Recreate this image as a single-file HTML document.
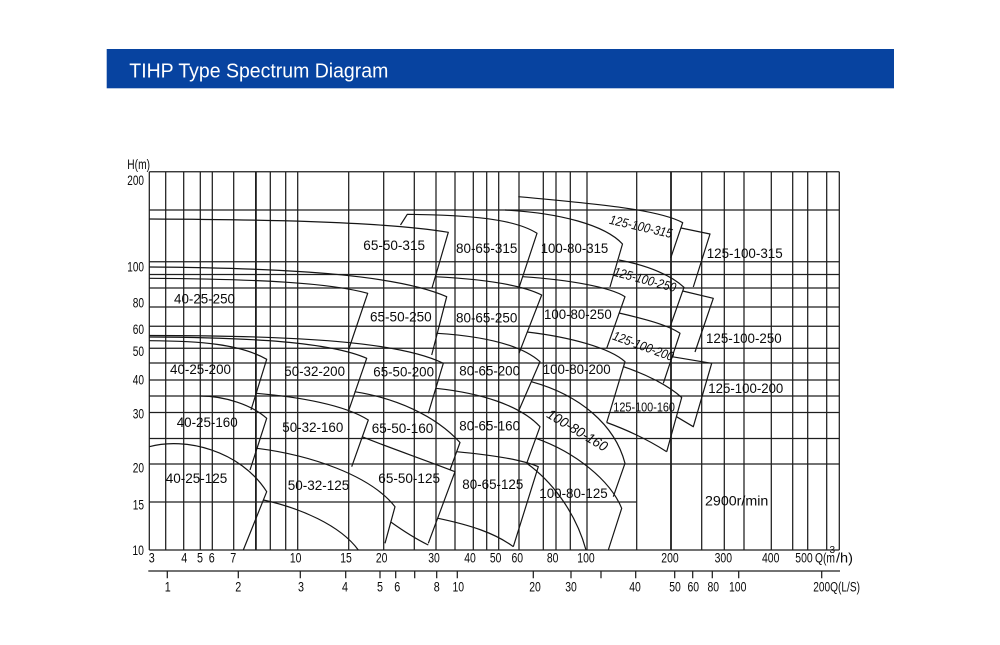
<!DOCTYPE html>
<html>
<head>
<meta charset="utf-8">
<style>
html,body{margin:0;padding:0;background:#fff;}
svg{display:block;}
text{font-family:"Liberation Sans",Arial,sans-serif;fill:#0a0a0a;}
</style>
</head>
<body>
<svg width="1000" height="645" viewBox="0 0 1000 645" xmlns="http://www.w3.org/2000/svg">
<rect width="1000" height="645" fill="#fff"/>
<!-- Header -->
<rect x="106.7" y="49" width="787.3" height="39.3" fill="#0743a0"/>
<text x="129.3" y="77.5" font-size="20" style="fill:#fff" textLength="259" lengthAdjust="spacingAndGlyphs">TIHP Type Spectrum Diagram</text>

<!-- Grid -->
<g stroke="#1e1e1e" stroke-width="1.25" fill="none">
<path d="M149.3,171.7V550 M165.7,171.7V550 M183.7,171.7V550 M200.3,171.7V550 M212.3,171.7V550 M233.7,171.7V550 M270.3,171.7V550 M285.7,171.7V550 M297.7,171.7V550 M348.7,171.7V550 M383.7,171.7V550 M414.3,171.7V550 M436,171.7V550 M455,171.7V550 M473.3,171.7V550 M486.7,171.7V550 M498.7,171.7V550 M519,171.7V550 M543.3,171.7V550 M556,171.7V550 M570.3,171.7V550 M587,171.7V550 M636.7,171.7V550 M701.7,171.7V550 M724.3,171.7V550 M744,171.7V550 M771.3,171.7V550 M792.7,171.7V550 M807.7,171.7V550 M826.7,171.7V550 M839.3,171.7V550"/>
<path d="M255.9,171.7V550 M671,171.7V550" stroke-width="1.8"/>
<path d="M149.3,171.7H839.3 M149.3,210H839.3 M149.3,261.7H839.3 M149.3,274.5H839.3 M149.3,288H839.3 M149.3,307H839.3 M149.3,326.2H839.3 M149.3,348.3H839.3 M149.3,363H839.3 M149.3,380H839.3 M149.3,396H839.3 M149.3,412.5H839.3 M149.3,438.5H839.3 M149.3,464H839.3 M149.3,502H636.7 M149.3,550H839.3"/>
<!-- L/S axis -->
<path d="M148.3,571H840 M167.3,571v7.3 M238.3,571v7.3 M300.3,571v7.3 M345.7,571v7.3 M380,571v7.3 M395.7,571v7.3 M414.7,571v7.3 M436.7,571v7.3 M457.3,571v7.3 M533.3,571v7.3 M571,571v7.3 M601,571v7.3 M635.7,571v7.3 M674.7,571v7.3 M692.7,571v7.3 M712.3,571v7.3 M738.7,571v7.3 M821.7,571v7.3"/>
</g>

<!-- Curves -->
<g stroke="#151515" stroke-width="1.2" fill="none" stroke-linejoin="round">
<path d="M149.3,219 C250,219.5 380,221 448.3,232.3 L432,288"/>
<path d="M400.5,225 L407.3,214.3 C470,215 515,219 537,233.3 L519,287.7"/>
<path d="M149.3,267 C300,268 400,276 446.7,296.7 L431.7,355"/>
<path d="M149.3,278.3 C260,279 330,283 367.7,293.3 L348.5,350"/>
<path d="M435,276.7 C480,279 520,284 541.7,295 L519,353.3"/>
<path d="M505,210 C560,213 605,225 622.5,244 L610,287"/>
<path d="M518.3,196.7 C600,204 660,210 682.7,222.7 L670.7,258"/>
<path d="M681,228 L710,234 L693.3,287"/>
<path d="M522.6,276.7 C570,280 610,287 625,296.7 L606.7,348.3"/>
<path d="M619,260 C650,266 672,276 684,287.3 L670,327"/>
<path d="M682.7,291 L713.3,298.3 L695,352"/>
<path d="M149.3,335.5 C300,335.5 400,342 443.3,363.3 L428.3,413.3"/>
<path d="M149.3,337 C250,337.5 330,342 366.7,358.3 L348.3,411.7"/>
<path d="M149.3,340.7 C200,341 240,344 266.7,359.3 L251,410"/>
<path d="M437,333.3 C480,336 520,344 540,361.7 L518.3,411.7"/>
<path d="M527,332 C570,337 610,348 625,361.7 L606.7,422.5"/>
<path d="M619,313 C645,319 668,325 680,333.3 L663.3,383.3"/>
<path d="M672,356.7 L711.7,363.3 L693.3,426.7 L676.5,416.7"/>
<path d="M200,396 C225,396 252,405 266.7,418.3 L250,470"/>
<path d="M256.5,393.3 C300,397 345,405 368.3,420 L351.7,466.7"/>
<path d="M354.5,391.7 C395,398 435,415 460,442.5 L450,470"/>
<path d="M435.8,388.3 C480,393 520,405 540,426.7 L526.7,463.3"/>
<path d="M531.3,381.7 C580,395 615,425 625,463.3 L613.3,496.7"/>
<path d="M623.5,366.7 C645,374 668,385 681.7,397.5 L666.7,451.7 M606.7,422.5 C630,431 650,441 666.7,451.7"/>
<path d="M149.3,446.7 C185,437 240,450 266.7,491.7 L243.3,550"/>
<path d="M257,448.3 C310,455 370,475 395,506.7 L385,543.3"/>
<path d="M263.4,500 C300,508 340,525 358.3,550"/>
<path d="M362,436.7 C390,448 425,460 455,471.7 L428.3,543.3"/>
<path d="M390.8,522 C402,530 416,539 428.3,545"/>
<path d="M456.5,451.7 C490,455 520,459 538.3,466.7 L513.3,546.7"/>
<path d="M438,518.3 C470,525 495,533 513.3,546.7"/>
<path d="M535.8,438.3 C575,452 610,480 621.7,508.3 L608.3,550"/>
<path d="M526.7,463.3 C550,480 575,510 586,550"/>
</g>

<!-- Y axis labels -->
<g font-size="13.5" text-anchor="end">
<text x="150" y="169" textLength="22.7" lengthAdjust="spacingAndGlyphs">H(m)</text>
<text x="144" y="185" textLength="16.7" lengthAdjust="spacingAndGlyphs">200</text>
<text x="144" y="271.7" textLength="16.7" lengthAdjust="spacingAndGlyphs">100</text>
<text x="144" y="307.7" textLength="11.3" lengthAdjust="spacingAndGlyphs">80</text>
<text x="144" y="334" textLength="11.3" lengthAdjust="spacingAndGlyphs">60</text>
<text x="144" y="356" textLength="11.3" lengthAdjust="spacingAndGlyphs">50</text>
<text x="144" y="384.3" textLength="11.3" lengthAdjust="spacingAndGlyphs">40</text>
<text x="144" y="418.3" textLength="11.3" lengthAdjust="spacingAndGlyphs">30</text>
<text x="144" y="472.7" textLength="11.3" lengthAdjust="spacingAndGlyphs">20</text>
<text x="144" y="509.3" textLength="11.3" lengthAdjust="spacingAndGlyphs">15</text>
<text x="144" y="555" textLength="11.6" lengthAdjust="spacingAndGlyphs">10</text>
</g>

<!-- Q m3/h labels -->
<g font-size="13.5" text-anchor="middle">
<text x="151.7" y="562.3" textLength="6" lengthAdjust="spacingAndGlyphs">3</text>
<text x="184.3" y="562.3" textLength="6" lengthAdjust="spacingAndGlyphs">4</text>
<text x="200" y="562.3" textLength="6" lengthAdjust="spacingAndGlyphs">5</text>
<text x="211.7" y="562.3" textLength="6" lengthAdjust="spacingAndGlyphs">6</text>
<text x="233.3" y="562.3" textLength="6" lengthAdjust="spacingAndGlyphs">7</text>
<text x="295.7" y="562.3" textLength="11.6" lengthAdjust="spacingAndGlyphs">10</text>
<text x="346" y="562.3" textLength="11.6" lengthAdjust="spacingAndGlyphs">15</text>
<text x="381.7" y="562.3" textLength="11.6" lengthAdjust="spacingAndGlyphs">20</text>
<text x="434" y="562.3" textLength="11.6" lengthAdjust="spacingAndGlyphs">30</text>
<text x="470" y="562.3" textLength="11.6" lengthAdjust="spacingAndGlyphs">40</text>
<text x="495.7" y="562.3" textLength="11.6" lengthAdjust="spacingAndGlyphs">50</text>
<text x="517.3" y="562.3" textLength="11.6" lengthAdjust="spacingAndGlyphs">60</text>
<text x="552.7" y="562.3" textLength="11.6" lengthAdjust="spacingAndGlyphs">80</text>
<text x="586" y="562.3" textLength="17.4" lengthAdjust="spacingAndGlyphs">100</text>
<text x="670" y="562.3" textLength="17.4" lengthAdjust="spacingAndGlyphs">200</text>
<text x="723.3" y="562.3" textLength="17.4" lengthAdjust="spacingAndGlyphs">300</text>
<text x="770.7" y="562.3" textLength="17.4" lengthAdjust="spacingAndGlyphs">400</text>
<text x="804" y="562.3" textLength="17.4" lengthAdjust="spacingAndGlyphs">500</text>
</g>
<g font-size="13.5">
<text x="815" y="562.3" textLength="20" lengthAdjust="spacingAndGlyphs">Q(m</text>
<text x="836" y="562.3" textLength="17" lengthAdjust="spacingAndGlyphs">/h)</text>
<text x="829.5" y="553" font-size="10">3</text>
</g>

<!-- Q L/S labels -->
<g font-size="13.5" text-anchor="middle">
<text x="167.7" y="591.5" textLength="6" lengthAdjust="spacingAndGlyphs">1</text>
<text x="238.3" y="591.5" textLength="6" lengthAdjust="spacingAndGlyphs">2</text>
<text x="301" y="591.5" textLength="6" lengthAdjust="spacingAndGlyphs">3</text>
<text x="345" y="591.5" textLength="6" lengthAdjust="spacingAndGlyphs">4</text>
<text x="380" y="591.5" textLength="6" lengthAdjust="spacingAndGlyphs">5</text>
<text x="397.3" y="591.5" textLength="6" lengthAdjust="spacingAndGlyphs">6</text>
<text x="436.7" y="591.5" textLength="6" lengthAdjust="spacingAndGlyphs">8</text>
<text x="458.3" y="591.5" textLength="11.6" lengthAdjust="spacingAndGlyphs">10</text>
<text x="535" y="591.5" textLength="11.6" lengthAdjust="spacingAndGlyphs">20</text>
<text x="571" y="591.5" textLength="11.6" lengthAdjust="spacingAndGlyphs">30</text>
<text x="635" y="591.5" textLength="11.6" lengthAdjust="spacingAndGlyphs">40</text>
<text x="675" y="591.5" textLength="11.6" lengthAdjust="spacingAndGlyphs">50</text>
<text x="693.3" y="591.5" textLength="11.6" lengthAdjust="spacingAndGlyphs">60</text>
<text x="713.3" y="591.5" textLength="11.6" lengthAdjust="spacingAndGlyphs">80</text>
<text x="737.7" y="591.5" textLength="17.4" lengthAdjust="spacingAndGlyphs">100</text>
</g>
<text x="813.3" y="591.5" font-size="13.5" textLength="46.7" lengthAdjust="spacingAndGlyphs">200Q(L/S)</text>

<!-- Pump labels -->
<g font-size="14">
<text x="174" y="303.3" textLength="61" lengthAdjust="spacingAndGlyphs">40-25-250</text>
<text x="170" y="374" textLength="61" lengthAdjust="spacingAndGlyphs">40-25-200</text>
<text x="176.7" y="427" textLength="61" lengthAdjust="spacingAndGlyphs">40-25-160</text>
<text x="165.7" y="483" textLength="61.6" lengthAdjust="spacingAndGlyphs">40-25-125</text>
<text x="284.3" y="376" textLength="60.7" lengthAdjust="spacingAndGlyphs">50-32-200</text>
<text x="282.3" y="432" textLength="61" lengthAdjust="spacingAndGlyphs">50-32-160</text>
<text x="287.7" y="490" textLength="61.6" lengthAdjust="spacingAndGlyphs">50-32-125</text>
<text x="363.3" y="250" textLength="61.7" lengthAdjust="spacingAndGlyphs">65-50-315</text>
<text x="370" y="321.7" textLength="61.7" lengthAdjust="spacingAndGlyphs">65-50-250</text>
<text x="373.3" y="376.5" textLength="60.7" lengthAdjust="spacingAndGlyphs">65-50-200</text>
<text x="371.7" y="433" textLength="61.6" lengthAdjust="spacingAndGlyphs">65-50-160</text>
<text x="378.3" y="483" textLength="61.7" lengthAdjust="spacingAndGlyphs">65-50-125</text>
<text x="456" y="253" textLength="61.3" lengthAdjust="spacingAndGlyphs">80-65-315</text>
<text x="456" y="322.5" textLength="61.3" lengthAdjust="spacingAndGlyphs">80-65-250</text>
<text x="459.3" y="375.5" textLength="60.7" lengthAdjust="spacingAndGlyphs">80-65-200</text>
<text x="459.3" y="430.5" textLength="60.7" lengthAdjust="spacingAndGlyphs">80-65-160</text>
<text x="462.3" y="489" textLength="61" lengthAdjust="spacingAndGlyphs">80-65-125</text>
<text x="540.7" y="253" textLength="67.6" lengthAdjust="spacingAndGlyphs">100-80-315</text>
<text x="544" y="319" textLength="67.7" lengthAdjust="spacingAndGlyphs">100-80-250</text>
<text x="542.7" y="374" textLength="68" lengthAdjust="spacingAndGlyphs">100-80-200</text>
<text x="539.3" y="498" textLength="68.4" lengthAdjust="spacingAndGlyphs">100-80-125</text>
<text x="706.7" y="258" textLength="76" lengthAdjust="spacingAndGlyphs">125-100-315</text>
<text x="706" y="343" textLength="75.7" lengthAdjust="spacingAndGlyphs">125-100-250</text>
<text x="708.3" y="393" textLength="75" lengthAdjust="spacingAndGlyphs">125-100-200</text>
<text x="705" y="505.5" textLength="63.3" lengthAdjust="spacingAndGlyphs">2900r/min</text>
<text x="613.3" y="411.5" font-size="12.5" textLength="61.7" lengthAdjust="spacingAndGlyphs">125-100-160</text>
</g>
<g font-style="italic" text-anchor="middle">
<text transform="translate(641,226.5) rotate(13)" y="4.5" font-size="13" textLength="64" lengthAdjust="spacingAndGlyphs">125-100-315</text>
<text transform="translate(645,279.5) rotate(15)" y="4.5" font-size="13" textLength="64" lengthAdjust="spacingAndGlyphs">125-100-250</text>
<text transform="translate(643.3,346) rotate(20)" y="4.5" font-size="13" textLength="64" lengthAdjust="spacingAndGlyphs">125-100-200</text>
<text transform="translate(577.5,430) rotate(31)" y="5" font-size="14" textLength="68" lengthAdjust="spacingAndGlyphs">100-80-160</text>
</g>
</svg>
</body>
</html>
